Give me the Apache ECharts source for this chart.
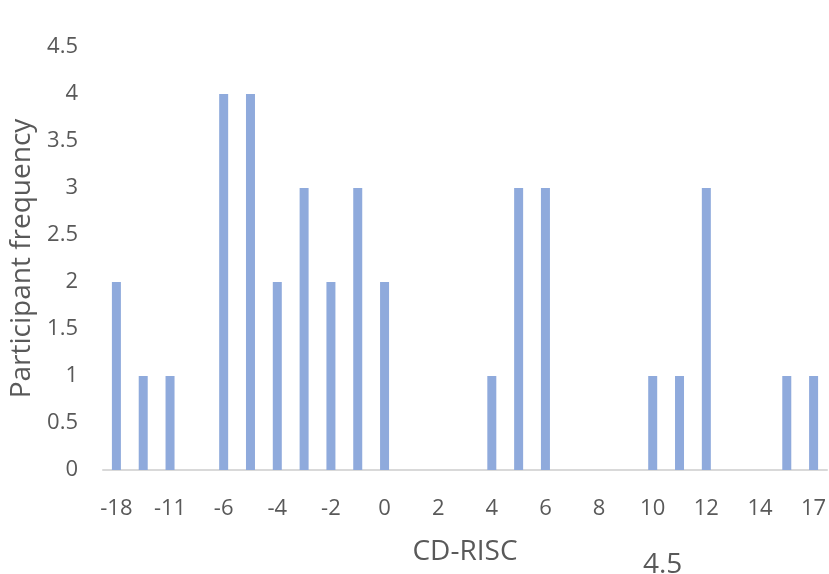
<!DOCTYPE html>
<html>
<head>
<meta charset="utf-8">
<script src="https://cdn.jsdelivr.net/npm/echarts@6/dist/echarts.min.js"></script>
<style>
  html, body { margin: 0; padding: 0; background: #ffffff; }
  #chart { width: 829px; height: 574px; }
</style>
</head>
<body>
<div id="chart"></div>
<script>
// CD-RISC change scores and how many participants had each
const categories = ['-18', '-13', '-11', '-8', '-6', '-5', '-4', '-3', '-2', '-1', '0', '1', '2', '3', '4', '5', '6', '7', '8', '9', '10', '11', '12', '13', '14', '16', '17'];
const frequency = [2, 1, 1, 0, 4, 4, 2, 3, 2, 3, 2, 0, 0, 0, 1, 3, 3, 0, 0, 0, 1, 1, 3, 0, 0, 1, 1];
const yTicks = { min: 0, max: 4.5, interval: 0.5 };

const textColor = '#595959';
const fontFamily = '"Open Sans", Lato, sans-serif';

const chart = echarts.init(document.getElementById('chart'));
chart.setOption({
  animation: false,
  grid: { left: 103, right: 2, top: 47, bottom: 104, containLabel: false, outerBoundsMode: 'none' },
  xAxis: {
    type: 'category',
    data: categories,
    name: 'CD-RISC',
    nameLocation: 'middle',
    nameGap: 68,
    nameTextStyle: { color: textColor, fontSize: 28, fontFamily },
    axisLine: { lineStyle: { color: '#d9d9d9', width: 2 } },
    axisTick: { show: false },
    axisLabel: { interval: 1, color: textColor, fontSize: 22, fontFamily, margin: 28 }
  },
  yAxis: {
    type: 'value',
    min: yTicks.min,
    max: yTicks.max,
    interval: yTicks.interval,
    name: 'Participant frequency',
    nameLocation: 'middle',
    nameGap: 56,
    nameTextStyle: { color: textColor, fontSize: 28, fontFamily },
    axisLine: { show: false },
    axisTick: { show: false },
    splitLine: { show: false },
    axisLabel: { color: textColor, fontSize: 22, fontFamily, margin: 25 }
  },
  graphic: [{
    type: 'text',
    left: 643,
    top: 551,
    style: { text: '4.5', fill: textColor, fontSize: 28, fontFamily }
  }],
  series: [{
    type: 'bar',
    data: frequency,
    barWidth: 9,
    itemStyle: { color: '#8faadc' }
  }]
});
</script>
</body>
</html>
